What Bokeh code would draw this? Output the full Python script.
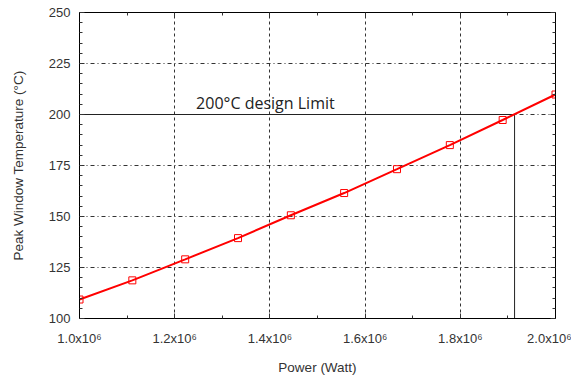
from bokeh.plotting import figure
from bokeh.models import LinearAxis, Label, FixedTicker, CustomJSTickFormatter, Range1d
from bokeh.embed import file_html
from bokeh.resources import INLINE

power = [1.0e6, 1.111e6, 1.222e6, 1.333e6, 1.444e6, 1.556e6, 1.667e6, 1.778e6, 1.889e6, 2.0e6]
temp = [109.3, 118.7, 129.0, 139.4, 150.6, 161.5, 173.2, 185.0, 197.3, 209.8]
limit_temp = 200
limit_power = 1.914e6
x_ticks = [1.0e6, 1.2e6, 1.4e6, 1.6e6, 1.8e6, 2.0e6]
x_labels = ["1.0x10⁶", "1.2x10⁶", "1.4x10⁶", "1.6x10⁶", "1.8x10⁶", "2.0x10⁶"]
y_ticks = [100, 125, 150, 175, 200, 225, 250]
x_minor = [1.1e6, 1.3e6, 1.5e6, 1.7e6, 1.9e6]
y_minor = [v for v in range(100, 251, 5)]

FONT = "Liberation Sans"

p = figure(width=571, height=377, output_backend="svg", toolbar_location=None,
           x_range=Range1d(1.0e6, 2.0e6), y_range=Range1d(100, 250),
           min_border_left=79, min_border_right=16, min_border_top=12, min_border_bottom=58,
           x_axis_label="Power (Watt)", y_axis_label="Peak Window Temperature (°C)")
p.outline_line_color = "black"
p.background_fill_color = "white"
p.border_fill_color = "white"

xt = FixedTicker(ticks=x_ticks, minor_ticks=x_minor)
yt = FixedTicker(ticks=y_ticks, minor_ticks=y_minor)
p.xaxis.ticker = xt
p.yaxis.ticker = yt
p.xaxis.major_label_overrides = {v: s for v, s in zip(x_ticks, x_labels)}

for ax in (p.xaxis[0], p.yaxis[0]):
    ax.major_tick_in = 5
    ax.major_tick_out = 0
    ax.minor_tick_in = 3
    ax.minor_tick_out = 0
    ax.axis_line_color = "black"
    ax.major_tick_line_color = "#333333"
    ax.minor_tick_line_color = "#333333"
    ax.major_label_text_font = FONT
    ax.major_label_text_font_size = "13px"
    ax.major_label_text_color = "#333333"
    ax.axis_label_text_font = FONT
    ax.axis_label_text_font_size = "13.5px"
    ax.axis_label_text_font_style = "normal"
    ax.axis_label_text_color = "#333333"
p.xaxis.major_label_standoff = 12
p.xaxis.axis_label_standoff = 11
p.yaxis.major_label_standoff = 9
p.yaxis.axis_label_standoff = 20

for loc in ("above", "right"):
    ax = LinearAxis(ticker=FixedTicker(ticks=x_ticks if loc == "above" else y_ticks,
                                       minor_ticks=x_minor if loc == "above" else y_minor),
                    major_label_text_font_size="0px", major_label_standoff=0,
                    major_tick_in=5, major_tick_out=0, minor_tick_in=3, minor_tick_out=0,
                    axis_line_color="black", major_tick_line_color="#333333",
                    minor_tick_line_color="#333333",
                    formatter=CustomJSTickFormatter(code="return ''"))
    p.add_layout(ax, loc)

p.xgrid.ticker = xt
p.ygrid.ticker = yt
p.xgrid.grid_line_color = "#333333"
p.ygrid.grid_line_color = "#333333"
p.xgrid.grid_line_dash = "3 3"
p.ygrid.grid_line_dash = "4 3 1 3"
p.xgrid.grid_line_width = 1
p.ygrid.grid_line_width = 1

# design limit lines
p.line([power[0], limit_power], [limit_temp, limit_temp], line_color="#222222", line_width=1)
p.line([limit_power, limit_power], [100, limit_temp], line_color="#222222", line_width=1)
p.add_layout(Label(x=1.245e6, y=limit_temp, y_offset=1, text="200°C design Limit",
                   text_font="Open Sans", text_font_size="16px", text_color="#222222",
                   text_baseline="bottom"))

p.line(power, temp, line_color="red", line_width=2)
p.scatter(power, temp, marker="square", size=7, fill_color=None, line_color="red", line_width=1)

open("out.html", "w").write(file_html(p, INLINE))
